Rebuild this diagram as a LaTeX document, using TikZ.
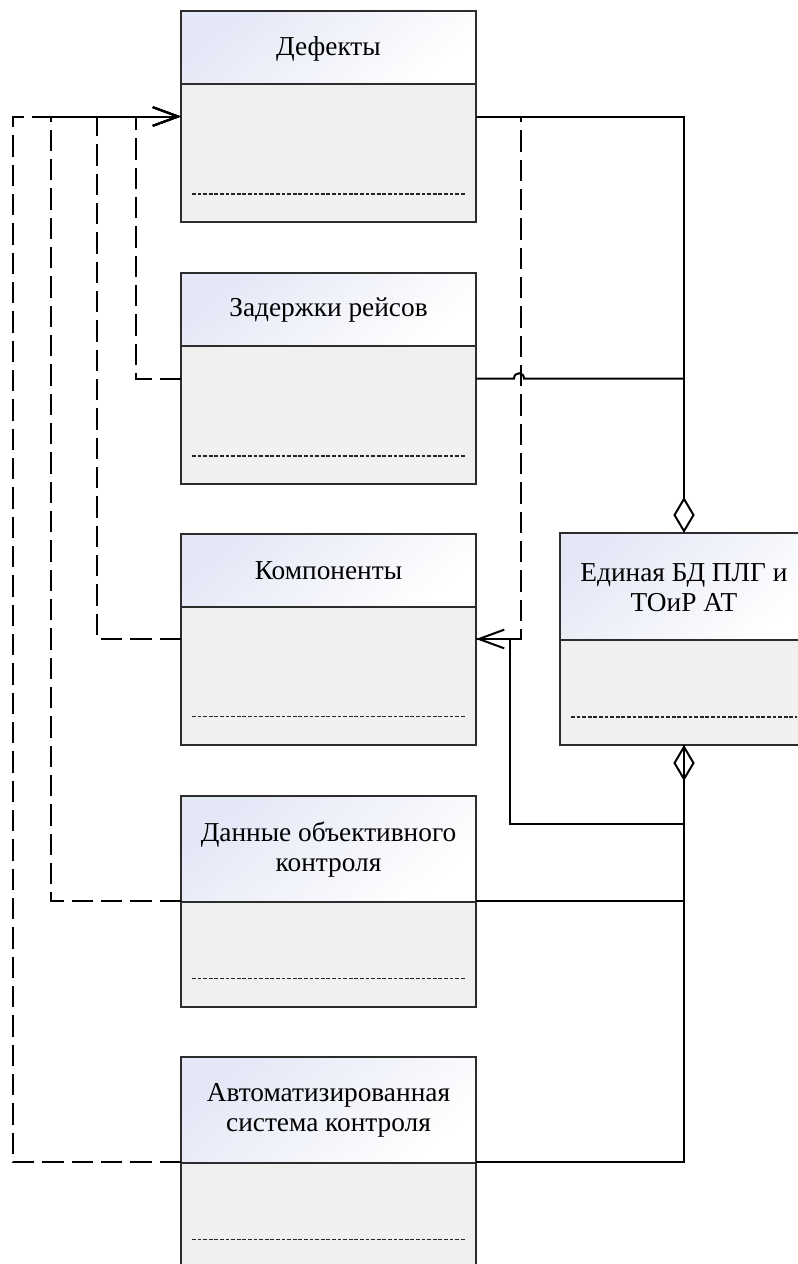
\documentclass[tikz,border=0pt]{standalone}
\usepackage{fontspec}
\setmainfont{Liberation Serif}
\usetikzlibrary{arrows.meta,calc}

\definecolor{headlav}{RGB}{228,231,246}
\definecolor{bodygray}{RGB}{240,240,240}
\definecolor{framegray}{RGB}{45,45,45}

\tikzset{
  classbody/.style={rectangle, fill=bodygray, draw=none, inner sep=0pt, outer sep=0pt},
  headshade/.style={top color=headlav, bottom color=white, shading angle=40},
  frame/.style={draw=framegray, line width=1.5pt},
  attrline/.style={draw=black!85, line width=1.4pt, dash pattern=on 2.8pt off 1.4pt},
  headtext/.style={align=center, inner sep=0pt, font=\fontsize{20.5pt}{22.5pt}\selectfont},
  conn/.style={draw=black, line width=1.5pt},
  dep/.style={conn, dash pattern=on 16pt off 6pt, -{Straight Barb[length=19pt,width=14pt]}},
  aggr/.style={{Diamond[open,length=27pt,width=16pt]}-},
}

% #1 name, #2 centre, #3 width, #4 height, #5 header height, #6 title
\newcommand{\umlclass}[6]{%
  \node[classbody, minimum width=#3, minimum height=#4] (#1) at #2 {};
  \shade[headshade] (#1.north west) rectangle ($(#1.north east)+(0,#5)$);
  \draw[frame] ($(#1.north west)+(0,#5)$) -- ($(#1.north east)+(0,#5)$);
  \draw[frame] (#1.north west) rectangle (#1.south east);
  \draw[attrline] ($(#1.south west)+(11,-28)$) -- ($(#1.south east)+(-11,-28)$);
  \node[headtext] (#1-title) at ($(#1.north)+(0,#5/2+1)$) {#6};
}

\begin{document}
\begin{tikzpicture}[x=0.75pt, y=-0.75pt]
  \clip (0,0) rectangle (798,1264);
  \fill[white] (0,0) rectangle (798,1264);

  % classes
  \umlclass{def}{(328.5,116.5)}{221.25pt}{158.25pt}{73}{Дефекты}
  \umlclass{zad}{(328.5,378.5)}{221.25pt}{158.25pt}{73}{Задержки рейсов}
  \umlclass{komp}{(328.5,639)}{221.25pt}{158.25pt}{73}{Компоненты}
  \umlclass{dok}{(328.5,901)}{221.25pt}{158.25pt}{106}{Данные объективного\\контроля}
  \umlclass{asc}{(328.5,1162)}{221.25pt}{158.25pt}{106}{Автоматизированная\\система контроля}
  \umlclass{edb}{(684,639)}{186pt}{159pt}{107}{Единая БД ПЛГ и\\ТОиР АТ}

  % bend points
  \coordinate (hopL) at (514,378.5);
  \coordinate (hopR) at (524,378.5);

  % dependencies (dashed)
  \draw[dep] (zad.west) -- (136,378.5) |- (def.west);
  \draw[dep] (komp.west) -- (97,639) |- (def.west);
  \draw[dep] (dok.west) -- (51,901) |- (def.west);
  \draw[dep] (asc.west) -- (13,1162) |- (def.west);
  \draw[dep] (def.east) -- (521,116.5) |- (komp.east);

  % aggregations (solid)
  \draw[conn, aggr] (edb.north) |- (def.east);
  \draw[conn] (zad.east) -- (hopL) .. controls (514,371.5) and (524,371.5) .. (hopR) -- (684,378.5);
  \draw[conn, aggr] (edb.south) |- (510,824) |- (komp.east);
  \draw[conn] (dok.east) -| (edb.south);
  \draw[conn] (asc.east) -| (edb.south);
\end{tikzpicture}
\end{document}
